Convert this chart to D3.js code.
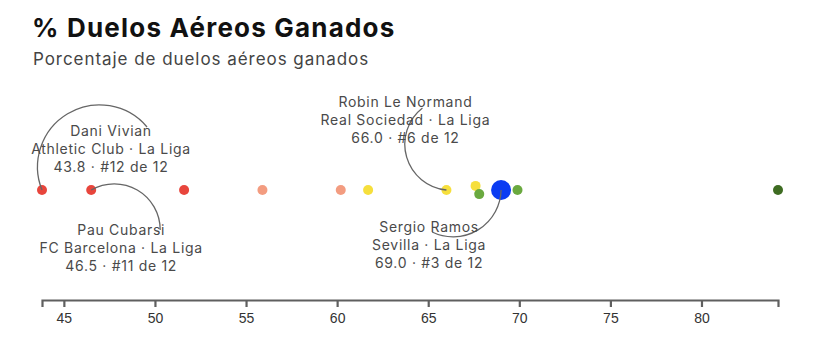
<!DOCTYPE html>
<html>
<head>
<meta charset="utf-8">
<script src="https://cdn.jsdelivr.net/npm/d3@7"></script>
<style>
  body { margin: 0; background: #fff; }
  svg { display: block; }
</style>
</head>
<body>
<div id="chart"></div>
<script>
// datos del grafico
const valores = [43.8, 46.5, 51.6, 55.9, 60.2, 61.7, 66.0, 67.6, 67.8, 69.0, 69.9, 84.2];
const jugadores = ["Dani Vivian", "Pau Cubarsi", "Robin Le Normand", "Sergio Ramos"];
const equipos = ["Athletic Club", "FC Barcelona", "Real Sociedad", "Sevilla"];
const valoresJugadores = [43.8, 46.5, 66.0, 69.0];
const liga = "La Liga";
const destacado = "Sergio Ramos";
const ticks = [45, 50, 55, 60, 65, 70, 75, 80];

const width = 832, height = 352;
const axisY = 300, dotY = 190;

let svg = d3.select("#chart")
  .append("svg")
  .attr("width", width)
  .attr("height", height)

// titulo
svg.append("text")
  .text("% Duelos Aéreos Ganados")
  .attr("x", 32)
  .attr("y", 37)
  .style("font-family", "Inter, 'Open Sans', sans-serif")
  .style("font-weight", "700")
  .style("font-size", "26px")
  .style("letter-spacing", "1.2px")
  .attr("fill", "#111")

svg.append("text")
  .text("Porcentaje de duelos aéreos ganados")
  .attr("x", 33)
  .attr("y", 65)
  .style("font-family", "Inter, 'Open Sans', sans-serif")
  .style("font-size", "17px")
  .style("letter-spacing", "0.95px")
  .attr("fill", "#444")

let x = d3.scaleLinear()
  .domain(d3.extent(valores))
  .range([42, 778])

let color = d3.scaleThreshold()
  .domain([53, 61, 67.7, 80])
  .range(["#e8453c", "#f39c80", "#f6df3c", "#6aa93f", "#3e6c22"])

// eje
let axis = svg.append("g")
  .attr("transform", "translate(0," + axisY + ")")
  .call(d3.axisBottom(x).tickValues(ticks).tickSize(7).tickSizeOuter(7).tickPadding(6))

axis.select(".domain").attr("stroke", "#5f5f5f").attr("stroke-width", 2.2)
axis.selectAll(".tick line").attr("stroke", "#5f5f5f").attr("stroke-width", 2.2)
axis.selectAll(".tick text")
  .style("font-family", "'Liberation Sans', Arial, sans-serif")
  .style("font-size", "14px")
  .attr("fill", "#333")

// puntos, con un pequeño desplazamiento vertical cuando se solapan
let puntos = valores.slice().sort((a, b) => a - b).map(v => ({
  v: v,
  cx: x(v),
  cy: dotY,
  r: (v === valoresJugadores[jugadores.indexOf(destacado)]) ? 10 : 5
}))
for (let i = 1; i < puntos.length; i++) {
  let a = puntos[i - 1], b = puntos[i]
  let dx = b.cx - a.cx
  let minD = a.r + b.r - 1
  if (dx < minD && a.cy === dotY) {
    let dy = Math.sqrt(minD * minD - dx * dx) / 2
    a.cy = dotY - dy
    b.cy = dotY + dy
  }
}

svg.append("g")
  .selectAll("circle")
  .data(puntos)
  .enter()
  .append("circle")
  .attr("cx", d => d.cx)
  .attr("cy", d => d.cy)
  .attr("r", d => d.r)
  .attr("fill", d => d.r > 5 ? "#0b3cf2" : color(d.v))

// anotaciones (posiciones relativas al punto)
let layout = [
  { lx: 69, ly: -54, ex: 105, ey: -63, r: 62 },
  { lx: 30, ly: 45, ex: 69, ey: 40, r: 46 },
  { lx: -41, ly: -83, ex: -24, ey: -82, r: 46 },
  { lx: -72, ly: 42, ex: -69, ey: 42, r: 48 }
]

let rango = v => valores.filter(d => d > v).length + 1

jugadores.forEach((nombre, i) => {
  let v = valoresJugadores[i]
  let px = x(v), py = dotY
  let l = layout[i]

  svg.append("path")
    .attr("d", "M" + px + "," + py + "A" + l.r + "," + l.r + " 0 0 1 " + (px + l.ex) + "," + (py + l.ey))
    .attr("fill", "none")
    .attr("stroke", "#666")
    .attr("stroke-width", 1.3)

  let lineas = [
    nombre,
    equipos[i] + " · " + liga,
    v.toFixed(1) + " · #" + rango(v) + " de " + valores.length
  ]
  svg.append("g")
    .selectAll("text")
    .data(lineas)
    .enter()
    .append("text")
    .text(d => d)
    .attr("x", px + l.lx)
    .attr("y", (d, j) => py + l.ly + j * 18)
    .style("text-anchor", "middle")
    .style("font-family", "Inter, 'Open Sans', sans-serif")
    .style("font-size", "14px")
    .style("letter-spacing", "0.7px")
    .attr("fill", "#4a4a4a")
})
</script>
</body>
</html>
